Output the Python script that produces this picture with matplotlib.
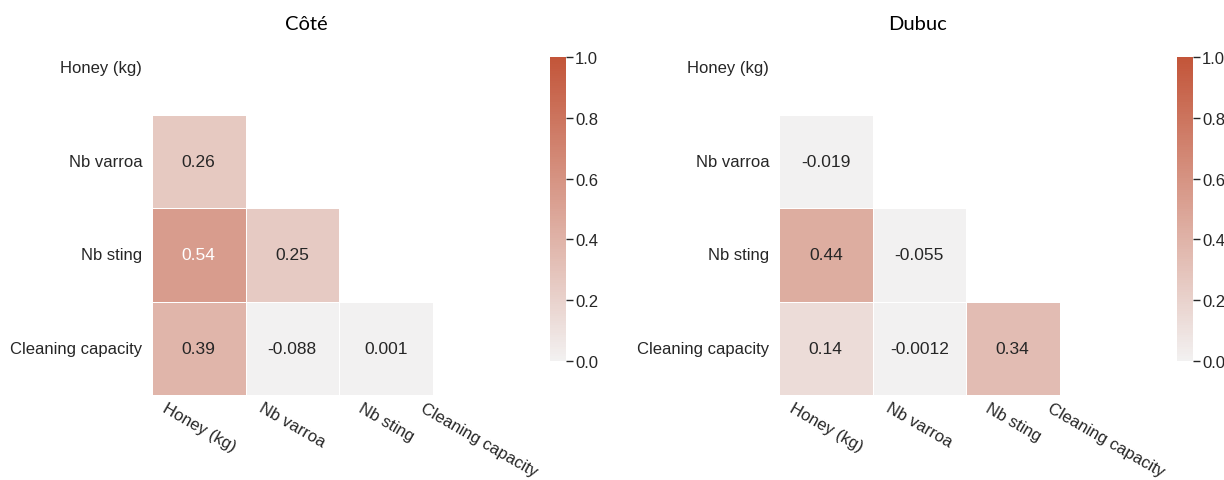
import numpy as np
import matplotlib
matplotlib.use("Agg")
import matplotlib.pyplot as plt
import seaborn as sns

variables = ["Honey (kg)", "Nb varroa", "Nb sting", "Cleaning capacity"]

# Pairwise correlations (lower triangle, row-major: (1,0), (2,0), (2,1), (3,0), (3,1), (3,2))
cote_corr = [0.26, 0.54, 0.25, 0.39, -0.088, 0.001]
dubuc_corr = [-0.019, 0.44, -0.055, 0.14, -0.0012, 0.34]

site_titles = ["Côté", "Dubuc"]


def corr_matrix(lower_values, n):
    m = np.eye(n)
    idx = np.tril_indices(n, k=-1)
    m[idx] = lower_values
    m.T[idx] = lower_values
    return m


sns.set_theme(style="white")
plt.rcParams["font.family"] = ["Liberation Sans", "DejaVu Sans"]

fig = plt.figure(figsize=(12.24, 4.81), dpi=100)
W, H = 1224, 481

cmap = sns.diverging_palette(230, 20, as_cmap=True)
n = len(variables)
mask = np.triu(np.ones((n, n), dtype=bool))

panels = [
    (cote_corr, 152, 550, 306),
    (dubuc_corr, 779, 1177, 918),
]

for (values, ax_left, cb_left, title_x), title in zip(panels, site_titles):
    ax = fig.add_axes([ax_left / W, (H - 396) / H, 374 / W, 374 / H])
    cax = fig.add_axes([cb_left / W, (H - 362) / H, 16 / W, 304 / H])
    data = corr_matrix(values, n)
    sns.heatmap(data, mask=mask, cmap=cmap, vmin=0, vmax=1, center=0,
                annot=True, fmt=".2g", annot_kws={"size": 12.5},
                linewidths=0.5, linecolor="white", square=False,
                xticklabels=variables, yticklabels=variables,
                ax=ax, cbar_ax=cax)
    ax.tick_params(axis="y", length=0, labelsize=12, colors="#262626", pad=7)
    ax.tick_params(axis="x", length=0, labelsize=12, colors="#262626", pad=3.5)
    ax.set_xticklabels(variables, rotation=-30, ha="center")
    ax.set_yticklabels(variables, rotation=0)
    cax.tick_params(axis="y", length=5, width=1, labelsize=12, colors="#262626",
                    right=True, pad=1.5)
    cax.set_yticks([0.0, 0.2, 0.4, 0.6, 0.8, 1.0])
    for s in cax.spines.values():
        s.set_visible(False)
    fig.text(title_x / W, 1 - 24 / H, title, ha="center", va="center",
             fontsize=14.5, family=["Lato", "DejaVu Sans"], color="black")

fig.savefig("out.png", dpi=100)
